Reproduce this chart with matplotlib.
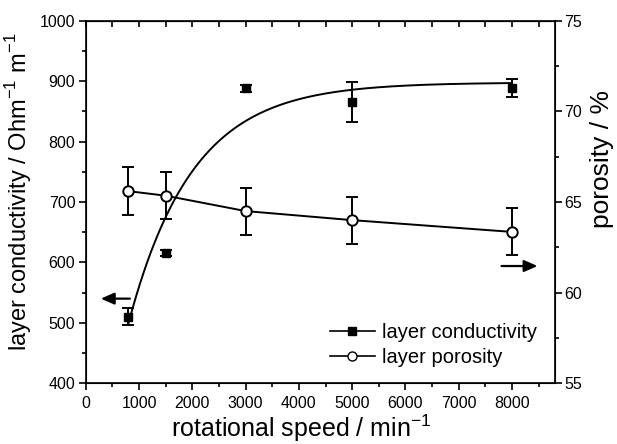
import matplotlib
matplotlib.use('Agg')
import matplotlib.pyplot as plt
import numpy as np
from matplotlib.lines import Line2D

plt.rcParams['font.family'] = ['Liberation Sans', 'DejaVu Sans']
plt.rcParams['mathtext.fontset'] = 'custom'
plt.rcParams['mathtext.rm'] = 'Liberation Sans'

# rotational speed / min^-1
speed = [800, 1500, 3000, 5000, 8000]

# layer conductivity / Ohm^-1 m^-1
cond = [510, 615, 888, 866, 889]
cond_err = [14, 5, 5, 33, 15]

# layer porosity / %
poro = [65.6, 65.35, 64.5, 64.0, 63.35]
poro_err = [1.32, 1.3, 1.3, 1.3, 1.3]

# exponential fit of the conductivity: A - B*exp(-x/t)
fit_A, fit_B, fit_t = 898, 778, 1200

fig = plt.figure(figsize=(6.17, 4.44), dpi=100)
ax = fig.add_axes([0.139, 0.137, 0.760, 0.816])
ax2 = ax.twinx()

xf = np.linspace(speed[0], speed[-1], 300)
ax.plot(xf, fit_A - fit_B * np.exp(-xf / fit_t), color='black', lw=1.4)
ax.errorbar(speed, cond, yerr=cond_err, fmt='s', color='black', ms=6,
            capsize=4.5, elinewidth=1.4, capthick=1.4)

ax2.errorbar(speed, poro, yerr=poro_err, fmt='-o', color='black', ms=7.5,
             mfc='white', mew=1.4, lw=1.4, capsize=4.5, elinewidth=1.4, capthick=1.4)

ax.set_xlim(0, 8800)
ax.set_ylim(400, 1000)
ax2.set_ylim(55, 75)

ax.set_xticks(np.arange(0, 8001, 1000))
ax.set_xticks(np.arange(500, 8800, 500), minor=True)
ax.set_yticks(np.arange(400, 1001, 100))
ax.set_yticks(np.arange(450, 1000, 100), minor=True)
ax2.set_yticks(np.arange(55, 76, 5))
ax2.set_yticks(np.arange(57.5, 75, 5), minor=True)

ax.tick_params(axis='both', which='major', direction='out', length=5, width=1.2, labelsize=11.5)
ax.tick_params(axis='both', which='minor', direction='out', length=3, width=1.2)
ax.tick_params(axis='x', which='major', pad=4)
ax.tick_params(axis='y', which='major', pad=2.5)
ax2.tick_params(axis='y', which='major', direction='out', length=5, width=1.2,
                labelsize=11.5, pad=2)
ax2.tick_params(axis='y', which='minor', direction='out', length=3, width=1.2)
for s in ax.spines.values():
    s.set_linewidth(1.2)

# inward ticks on the top spine
top = ax.secondary_xaxis('top')
top.set_xticks(np.arange(0, 8800, 500))
top.tick_params(direction='in', length=4, width=1.2, labeltop=False)

ax.set_xlabel('rotational speed / min$^{-1}$', fontsize=18, va='baseline')
ax.set_ylabel('layer conductivity / Ohm$^{-1}$ m$^{-1}$', fontsize=17)
ax2.set_ylabel('porosity / %', fontsize=19)
ax.xaxis.set_label_coords(0.46, -0.149)
ax.yaxis.set_label_coords(-0.11, 0.528)
ax2.yaxis.set_label_coords(1.075, 0.62)

ax.annotate('', xy=(230, 540), xytext=(880, 540),
            arrowprops=dict(arrowstyle='-|>,head_length=0.8,head_width=0.35', color='black', lw=1.6))
ax.annotate('', xy=(8530, 594), xytext=(7750, 594),
            arrowprops=dict(arrowstyle='-|>,head_length=0.8,head_width=0.35', color='black', lw=1.6))

handles = [Line2D([], [], color='black', marker='s', ms=6, lw=1.2),
           Line2D([], [], color='black', marker='o', ms=6.5, mfc='white', lw=1.2)]
ax.legend(handles, ['layer conductivity', 'layer porosity'], loc='lower right',
          bbox_to_anchor=(1.0, -0.005), frameon=False, fontsize=14.5,
          handlelength=2.2, handletextpad=0.35, labelspacing=0.3)

fig.savefig('out.png', dpi=100)
